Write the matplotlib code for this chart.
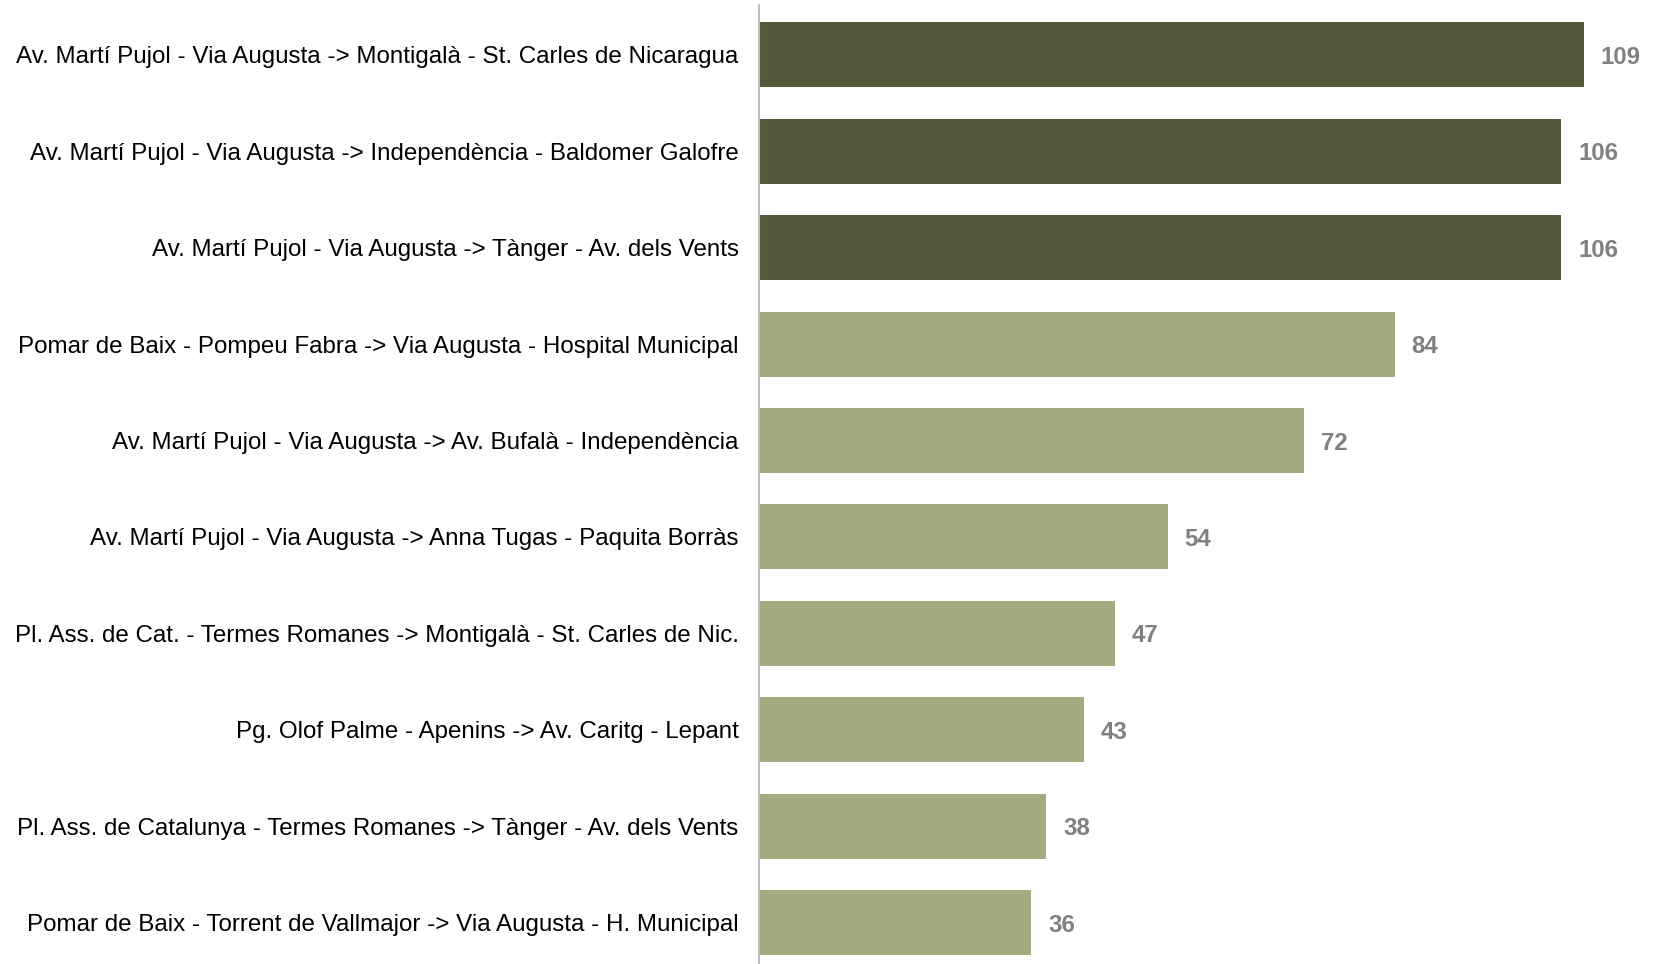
import matplotlib.pyplot as plt

plt.rcParams['font.family'] = ['Liberation Sans', 'DejaVu Sans']

routes = [
    "Av. Martí Pujol - Via Augusta -> Montigalà - St. Carles de Nicaragua",
    "Av. Martí Pujol - Via Augusta -> Independència - Baldomer Galofre",
    "Av. Martí Pujol - Via Augusta -> Tànger - Av. dels Vents",
    "Pomar de Baix - Pompeu Fabra -> Via Augusta - Hospital Municipal",
    "Av. Martí Pujol - Via Augusta -> Av. Bufalà - Independència",
    "Av. Martí Pujol - Via Augusta -> Anna Tugas - Paquita Borràs",
    "Pl. Ass. de Cat. - Termes Romanes -> Montigalà - St. Carles de Nic.",
    "Pg. Olof Palme - Apenins -> Av. Caritg - Lepant",
    "Pl. Ass. de Catalunya - Termes Romanes -> Tànger - Av. dels Vents",
    "Pomar de Baix - Torrent de Vallmajor -> Via Augusta - H. Municipal",
]
counts = [109, 106, 106, 84, 72, 54, 47, 43, 38, 36]
top_n = 3  # the first three are drawn darker

dark = "#535a3b"
light = "#a3ab7f"
colors = [dark if i < top_n else light for i in range(len(counts))]

fig = plt.figure(figsize=(16.53, 9.64), dpi=100)
ax = fig.add_axes([0.459, 0.0, 0.541, 0.995])

y = list(range(len(counts)))
bars = ax.barh(y, counts, height=0.675, color=colors)

for b, v in zip(bars, counts):
    ax.text(b.get_width() + 2.2, b.get_y() + b.get_height() / 2, str(v),
            va="center_baseline", ha="left", fontsize=17.3, fontweight="bold",
            color="#808080")

ax.set_yticks(y)
ax.set_yticklabels(routes, fontsize=17.4)
ax.tick_params(axis="y", length=0, pad=14.5)
ax.set_xticks([])
ax.set_xlim(0, 118.1)
ax.set_ylim(9.43, -0.52)

for s in ["top", "right", "bottom"]:
    ax.spines[s].set_visible(False)
ax.spines["left"].set_color("#bfbfbf")
ax.spines["left"].set_linewidth(1.5)

fig.savefig("out.png", dpi=100)
